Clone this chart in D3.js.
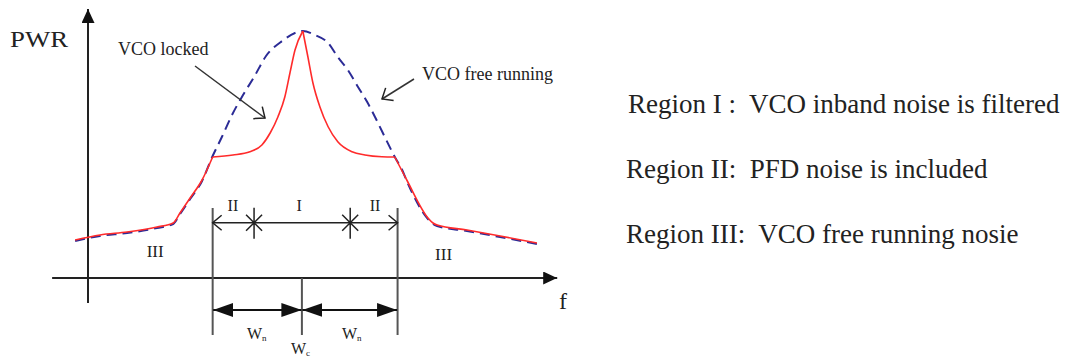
<!DOCTYPE html>
<html>
<head>
<meta charset="utf-8">
<script src="https://cdn.jsdelivr.net/npm/d3@7"></script>
<style>
  body { margin: 0; background: #fff; }
  svg text { font-family: "Liberation Serif", "Times New Roman", serif; fill: #222; white-space: pre; }
</style>
</head>
<body>
<div id="chart"></div>
<script>
// curves, [frequency, power] in arbitrary units
const freeOuterLeft = [[-2.8, 14.8], [2.6, 16.8], [8.5, 18.0], [15.0, 20.0], [18.5, 21.6], [20.0, 25.6], [22.2, 31.6], [24.8, 38.8]];
const freeCore = [[27.0, 48.4], [29.1, 56.4], [31.3, 65.2], [33.7, 73.2], [36.1, 80.4], [38.7, 88.8], [42.2, 94.8], [45.0, 98.0],
                  [46.7, 98.8], [49.3, 97.2], [52.2, 94.0], [54.3, 88.4], [56.5, 83.2], [58.7, 76.4], [60.7, 70.4], [62.4, 64.4],
                  [64.1, 58.0], [66.7, 48.4]];
const freeOuterRight = [[68.3, 43.2], [69.3, 38.8], [73.9, 23.6], [75.0, 21.6], [75.9, 20.8], [82.4, 18.8], [89.6, 16.4], [97.6, 13.6]];

const lockedOuterLeft = [[-2.8, 15.2], [2.6, 17.2], [8.5, 18.4], [15.0, 20.4], [18.5, 22.0], [20.0, 26.0], [22.2, 32.0], [24.8, 39.2], [27.1, 48.4]];
const lockedCoreLeft = [[27.1, 48.4], [31.5, 49.2], [35.2, 50.5], [37.8, 53.2], [39.6, 58.0], [41.3, 64.5], [42.8, 72.5], [43.9, 82.0], [45.0, 91.2], [46.7, 98.8]];
const lockedCoreRight = [[46.7, 98.8], [47.8, 88.5], [48.9, 78.0], [50.4, 68.5], [52.2, 60.5], [54.3, 54.5], [57.4, 50.5], [60.2, 49.2], [63.9, 48.5], [66.7, 48.4]];
const lockedOuterRight = [[66.7, 48.4], [69.3, 39.2], [73.9, 24.0], [75.0, 22.0], [75.9, 21.2], [82.4, 19.2], [89.6, 16.8], [97.6, 14.0]];

// band edges: left edge of Wn, centre Wc, right edge of Wn, and the region I/II split points
const bandEdges = [27.1, 46.5, 67.3];
const splitPoints = [36.1, 57.0];
const regionLabels = [["II", 31.5, 26.8], ["I", 45.9, 26.8], ["II", 62.4, 26.8], ["III", 14.6, 8.4], ["III", 77.3, 7.2]];

const notes = ["Region I :  VCO inband noise is filtered", "Region II:  PFD noise is included", "Region III:  VCO free running nosie"];

const width = 1068, height = 360;
const x = d3.scaleLinear().domain([0, 100]).range([88, 548]);
const y = d3.scaleLinear().domain([0, 100]).range([278, 28]);

const svg = d3.select("#chart").append("svg")
    .attr("width", width)
    .attr("height", height);

const defs = svg.append("defs");
// solid arrow heads
function solidMarker(id, len, half) {
  defs.append("marker")
      .attr("id", id)
      .attr("viewBox", `0 0 ${len} ${half * 2}`)
      .attr("refX", len).attr("refY", half)
      .attr("markerWidth", len).attr("markerHeight", half * 2)
      .attr("markerUnits", "userSpaceOnUse")
      .attr("orient", "auto-start-reverse")
    .append("path")
      .attr("d", `M0,0L${len},${half}L0,${half * 2}Z`)
      .attr("fill", "#111");
}
solidMarker("axisHead", 14, 6.5);
solidMarker("dimHead", 20, 7);
// open "V" arrow head
defs.append("marker")
    .attr("id", "openHead")
    .attr("viewBox", "-1 -1 12 18")
    .attr("refX", 9).attr("refY", 7.5)
    .attr("markerWidth", 12).attr("markerHeight", 18)
    .attr("markerUnits", "userSpaceOnUse")
    .attr("orient", "auto-start-reverse")
  .append("path")
    .attr("d", "M0,0L9,7.5L0,15")
    .attr("fill", "none")
    .attr("stroke", "#222")
    .attr("stroke-width", 1.5);

// axes
svg.append("line")
    .attr("x1", x(-7.8)).attr("x2", x(102))
    .attr("y1", y(0)).attr("y2", y(0))
    .attr("stroke", "#222").attr("stroke-width", 2)
    .attr("marker-end", "url(#axisHead)");
svg.append("line")
    .attr("x1", x(0)).attr("x2", x(0))
    .attr("y1", y(-10)).attr("y2", y(107.6))
    .attr("stroke", "#222").attr("stroke-width", 2)
    .attr("marker-end", "url(#axisHead)");

svg.append("text").attr("x", 10).attr("y", 47)
    .style("font-size", "24px").attr("textLength", 58).attr("lengthAdjust", "spacingAndGlyphs")
    .text("PWR");
svg.append("text").attr("x", 559).attr("y", 309)
    .style("font-size", "24px").text("f");

// band edge lines
svg.selectAll(".edge").data([bandEdges[0], bandEdges[2]]).join("line")
    .attr("class", "edge")
    .attr("x1", d => x(d)).attr("x2", d => x(d))
    .attr("y1", y(28)).attr("y2", y(-22.8))
    .attr("stroke", "#555").attr("stroke-width", 2);
svg.append("line")
    .attr("x1", x(bandEdges[1])).attr("x2", x(bandEdges[1]))
    .attr("y1", y(0)).attr("y2", y(-22.8))
    .attr("stroke", "#555").attr("stroke-width", 2);

// upper dimension line with region splits
svg.append("line")
    .attr("x1", x(bandEdges[0])).attr("x2", x(bandEdges[2]))
    .attr("y1", y(22.1)).attr("y2", y(22.1))
    .attr("stroke", "#222").attr("stroke-width", 1.5)
    .attr("marker-start", "url(#openHead)")
    .attr("marker-end", "url(#openHead)");
svg.selectAll(".split").data(splitPoints).join("path")
    .attr("class", "split")
    .attr("d", d => {
      const cx = x(d), cy = y(22.1);
      return `M${cx - 8},${cy - 8}L${cx},${cy}L${cx - 8},${cy + 8}` +
             `M${cx + 8},${cy - 8}L${cx},${cy}L${cx + 8},${cy + 8}` +
             `M${cx},${cy - 15}L${cx},${cy + 16}`;
    })
    .attr("fill", "none").attr("stroke", "#222").attr("stroke-width", 1.5);

svg.selectAll(".region").data(regionLabels).join("text")
    .attr("class", "region")
    .attr("x", d => x(d[1])).attr("y", d => y(d[2]))
    .attr("text-anchor", "middle")
    .style("font-size", d => d[0] === "III" ? "17px" : "16px")
    .text(d => d[0]);

// lower dimension arrows (Wn either side of Wc)
svg.selectAll(".dim").data([[bandEdges[0], bandEdges[1]], [bandEdges[1], bandEdges[2]]]).join("line")
    .attr("class", "dim")
    .attr("x1", d => x(d[0]) + 0.5).attr("x2", d => x(d[1]) - 0.5)
    .attr("y1", y(-12.8)).attr("y2", y(-12.8))
    .attr("stroke", "#111").attr("stroke-width", 2)
    .attr("marker-start", "url(#dimHead)")
    .attr("marker-end", "url(#dimHead)");

function wLabel(px, py, sub) {
  const t = svg.append("text").attr("x", px).attr("y", py).style("font-size", "16px");
  t.append("tspan").text("W");
  t.append("tspan").attr("dy", 2).style("font-size", "9px").text(sub);
}
wLabel(247, 339, "n");
wLabel(342, 339, "n");
wLabel(291, 354, "c");

// curves
const line = d3.line().x(d => x(d[0])).y(d => y(d[1])).curve(d3.curveMonotoneX);

svg.append("path")
    .attr("d", line(freeOuterLeft.concat(freeCore, freeOuterRight)))
    .attr("fill", "none").attr("stroke", "#2b2b96")
    .attr("stroke-width", 2).attr("stroke-dasharray", "10,6");

[lockedOuterLeft, lockedCoreLeft, lockedCoreRight, lockedOuterRight].forEach(seg => {
  svg.append("path")
      .attr("d", line(seg))
      .attr("fill", "none").attr("stroke", "#ff2b2b")
      .attr("stroke-width", 1.6);
});

// annotations
svg.append("text").attr("x", 118).attr("y", 55).style("font-size", "18px").text("VCO locked");
svg.append("line")
    .attr("x1", 195).attr("y1", 66).attr("x2", 265).attr("y2", 118)
    .attr("stroke", "#333").attr("stroke-width", 1.5)
    .attr("marker-end", "url(#openHead)");
svg.append("text").attr("x", 422).attr("y", 80).style("font-size", "18px").text("VCO free running");
svg.append("line")
    .attr("x1", 414).attr("y1", 79).attr("x2", 382).attr("y2", 99)
    .attr("stroke", "#333").attr("stroke-width", 1.5)
    .attr("marker-end", "url(#openHead)");

// region notes on the right
svg.selectAll(".note").data(notes).join("text")
    .attr("class", "note")
    .attr("x", (d, i) => i === 0 ? 628 : 626)
    .attr("y", (d, i) => [113, 178, 243][i])
    .style("font-size", "27px")
    .text(d => d);
</script>
</body>
</html>
